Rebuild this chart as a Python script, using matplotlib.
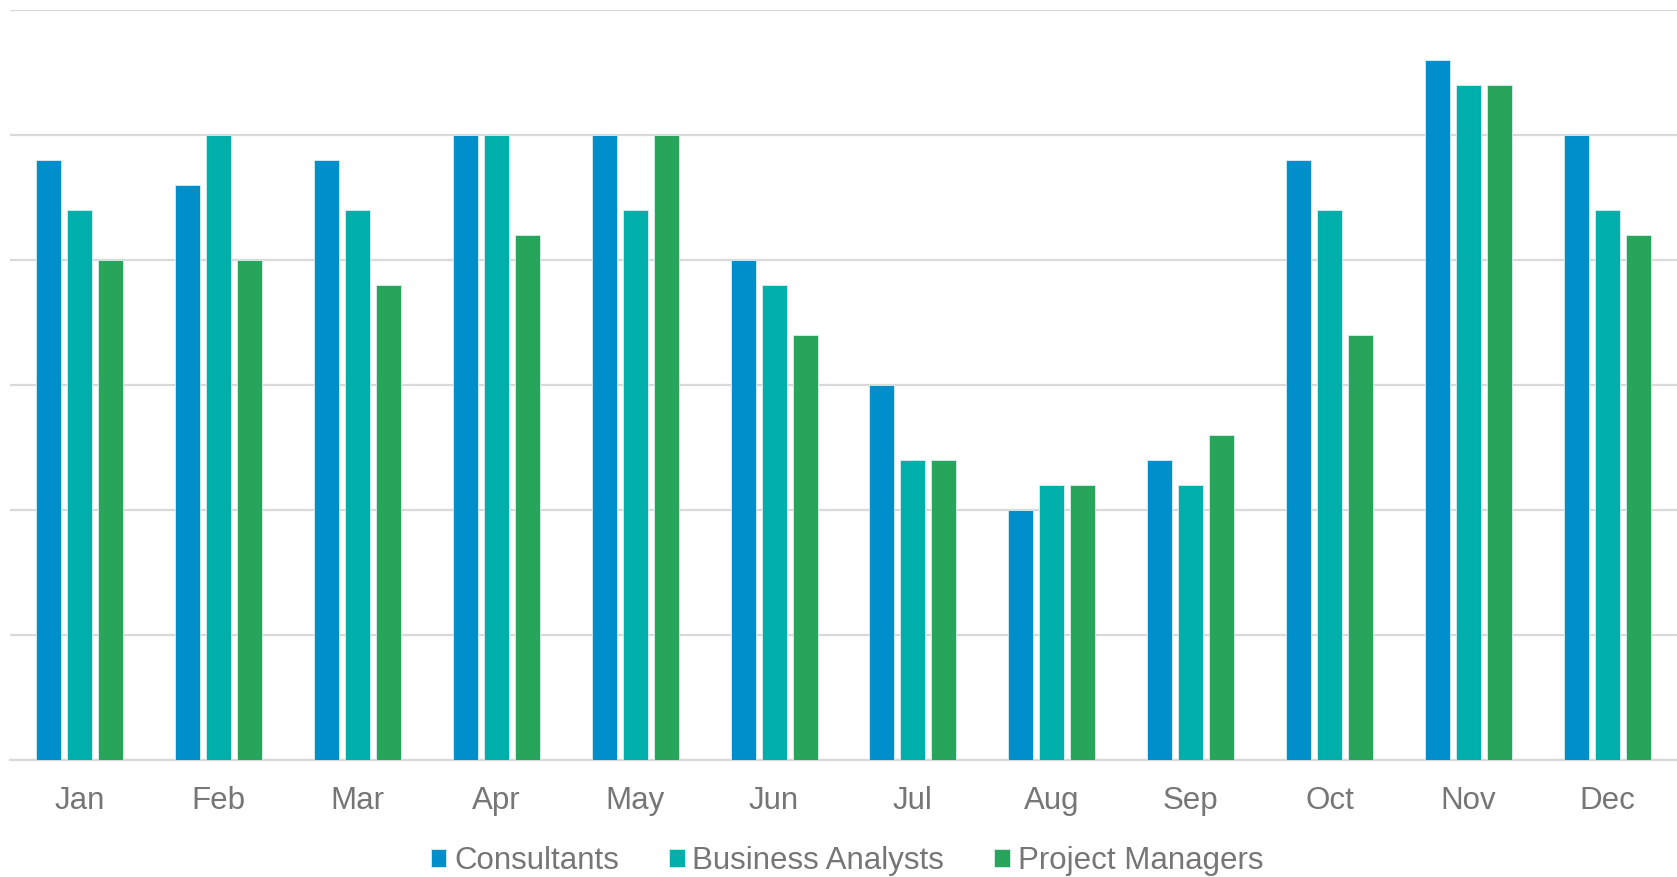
import numpy as np
import matplotlib
matplotlib.use("Agg")
import matplotlib.pyplot as plt

months = ['Jan', 'Feb', 'Mar', 'Apr', 'May', 'Jun',
          'Jul', 'Aug', 'Sep', 'Oct', 'Nov', 'Dec']
consultants = [24, 23, 24, 25, 25, 20, 15, 10, 12, 24, 28, 25]
analysts = [22, 25, 22, 25, 22, 19, 12, 11, 11, 22, 27, 22]
managers = [20, 20, 19, 21, 25, 17, 12, 11, 13, 17, 27, 21]

series = [
    ('Consultants', consultants, '#008FCB'),
    ('Business Analysts', analysts, '#00AEAA'),
    ('Project Managers', managers, '#26A55B'),
]

plt.rcParams['font.family'] = ['Liberation Sans', 'DejaVu Sans']

fig = plt.figure(figsize=(16.77, 8.77), dpi=100)
ax = fig.add_axes([10 / 1677, 1 - 760 / 877, 1667 / 1677, 750.5 / 877])

x = np.arange(len(months))
width = 0.18
step = 0.223
for i, (name, vals, color) in enumerate(series):
    ax.bar(x + (i - 1) * step, vals, width, color=color, label=name,
           edgecolor='#d8eef0', linewidth=0.6, zorder=3)

ax.set_xlim(-0.5, 11.5)
ax.set_ylim(0, 30)
ax.set_yticks(range(0, 31, 5))
ax.set_yticklabels([])
ax.grid(axis='y', color='#d9d9d9', linewidth=1.6, zorder=0)
ax.tick_params(axis='y', length=0)
ax.tick_params(axis='x', length=0, labelsize=22.5, labelcolor='#767676', pad=19)
ax.set_xticks(x)
ax.set_xticklabels(months)
for s in ['top', 'right', 'left']:
    ax.spines[s].set_visible(False)
ax.spines['bottom'].set_color('#d9d9d9')
ax.spines['bottom'].set_linewidth(1.6)

leg = fig.legend(loc='center', bbox_to_anchor=(847 / 1677, 1 - 861 / 877),
                 ncol=3, frameon=False, fontsize=22.5, handlelength=0.5,
                 handleheight=0.5, handletextpad=0.25, columnspacing=1.6)
for t in leg.get_texts():
    t.set_color('#767676')

fig.savefig('out.png', dpi=100)
